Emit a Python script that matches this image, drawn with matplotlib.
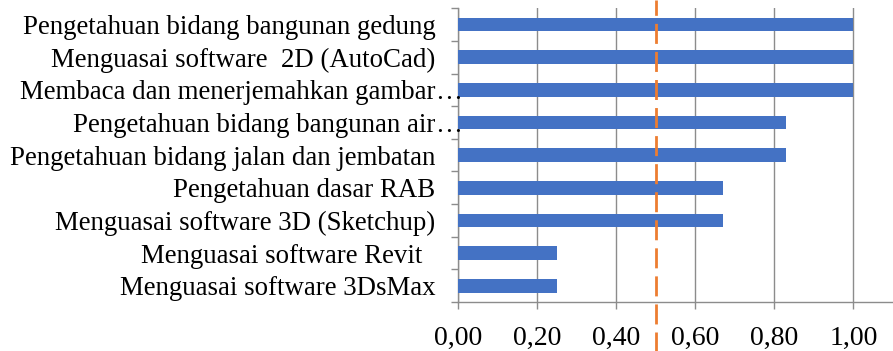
import matplotlib.pyplot as plt
import numpy as np

categories = [
    "Pengetahuan bidang bangunan gedung",
    "Menguasai software  2D (AutoCad)",
    "Membaca dan menerjemahkan gambar…",
    "Pengetahuan bidang bangunan air…",
    "Pengetahuan bidang jalan dan jembatan",
    "Pengetahuan dasar RAB",
    "Menguasai software 3D (Sketchup)",
    "Menguasai software Revit  ",
    "Menguasai software 3DsMax",
]
values = [1.00, 1.00, 1.00, 0.83, 0.83, 0.67, 0.67, 0.25, 0.25]
threshold = 0.5
xticks = [0.0, 0.2, 0.4, 0.6, 0.8, 1.0]
xtick_labels = ["0,00", "0,20", "0,40", "0,60", "0,80", "1,00"]

plt.rcParams['font.family'] = ['Liberation Serif', 'DejaVu Serif']
grey = '#8c8c8c'
fs = 19.4

fig = plt.figure(figsize=(8.93, 3.51), dpi=100)
ax = fig.add_axes([0.5125, 0.1396, 0.4875, 0.8367])

y = np.arange(len(categories))[::-1]
ax.barh(y, values, height=0.42, color='#4472C4', zorder=3)

ax.set_xlim(0, 1.1)
ax.set_ylim(-0.5, len(categories) - 0.5)
ax.set_xticks(xticks)
ax.set_xticklabels(xtick_labels, fontsize=20)
ax.xaxis.grid(True, color=grey, linewidth=1, zorder=0)

# category labels; a trailing ellipsis hangs past the label edge like in Excel
ax.set_yticks(y)
base = [c[:-1] if c.endswith('…') else c for c in categories]
ax.set_yticklabels(base, fontsize=fs)
ax.set_yticks(np.arange(len(categories) + 1) - 0.5, minor=True)
ax.tick_params(axis='y', which='major', length=0, pad=16)
ax.tick_params(axis='y', which='minor', length=5, color=grey, width=1)
ax.tick_params(axis='x', length=5, color=grey, width=1, pad=12)

fig.canvas.draw()
for lab, c in zip(ax.get_yticklabels(), categories):
    if c.endswith('…'):
        bb = lab.get_window_extent()
        ax.annotate('…', xy=(0, lab.get_position()[1]),
                    xycoords=ax.get_yaxis_transform(),
                    xytext=(bb.x1 - ax.bbox.x0, 0), textcoords='offset pixels',
                    fontsize=fs, va='center_baseline', ha='left',
                    annotation_clip=False)

for s in ['top', 'right']:
    ax.spines[s].set_visible(False)
for s in ['left', 'bottom']:
    ax.spines[s].set_color(grey)
    ax.spines[s].set_linewidth(1)

ax.axvline(threshold, ymin=-0.17, ymax=1.03, color='#ED7D31', linewidth=2,
           dashes=(7.2, 2.9), clip_on=False, zorder=4)

fig.savefig('out.png', dpi=100)
